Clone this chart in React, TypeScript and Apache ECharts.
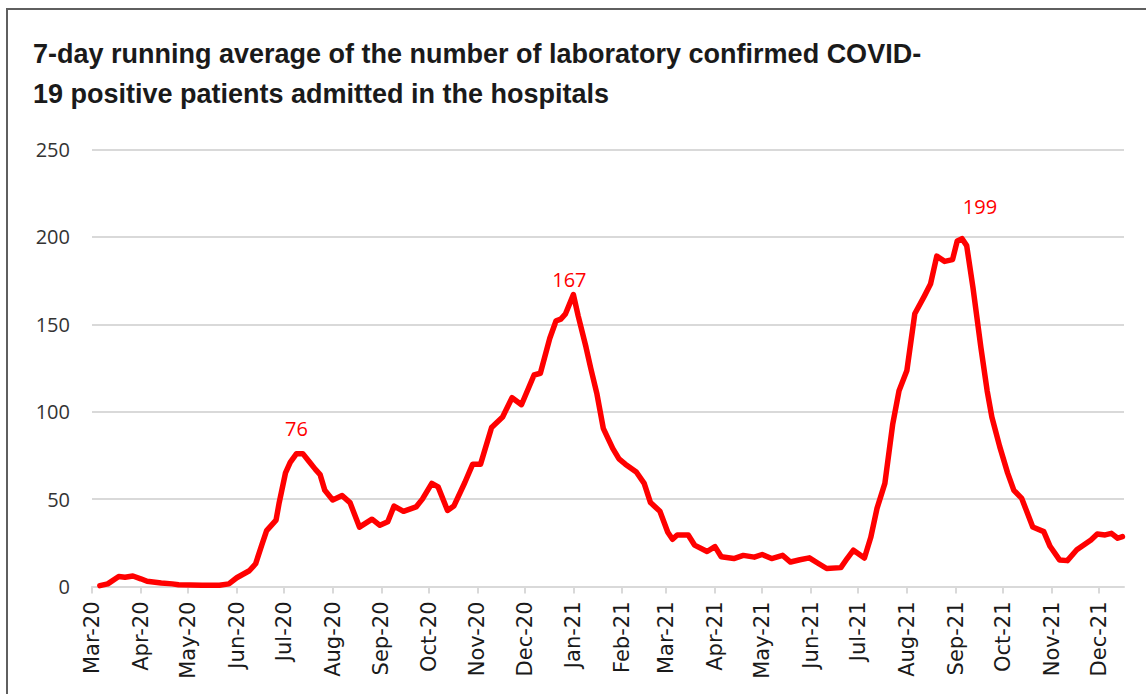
import React, { useEffect, useRef } from "react";
import * as echarts from "echarts";

const titleLines = [
  "7-day running average of the number of laboratory confirmed COVID-",
  "19 positive patients admitted in the hospitals",
];

const axisStart = "2020-03-01";
const axisEnd = "2021-12-17";

const yTicks = [0, 50, 100, 150, 200, 250];

const sampleDates = [
  "2020-03-06", "2020-03-11", "2020-03-18", "2020-03-22", "2020-03-27", "2020-04-01",
  "2020-04-05", "2020-04-14", "2020-04-21", "2020-04-25", "2020-05-10", "2020-05-21",
  "2020-05-27", "2020-06-01", "2020-06-09", "2020-06-13", "2020-06-17", "2020-06-20",
  "2020-06-26", "2020-06-28", "2020-07-02", "2020-07-05", "2020-07-09", "2020-07-13",
  "2020-07-17", "2020-07-21", "2020-07-24", "2020-07-27", "2020-08-01", "2020-08-07",
  "2020-08-12", "2020-08-18", "2020-08-26", "2020-08-31", "2020-09-05", "2020-09-09",
  "2020-09-15", "2020-09-23", "2020-09-27", "2020-10-03", "2020-10-07", "2020-10-13",
  "2020-10-17", "2020-10-24", "2020-10-29", "2020-11-03", "2020-11-10", "2020-11-17",
  "2020-11-23", "2020-11-29", "2020-12-07", "2020-12-11", "2020-12-17", "2020-12-21",
  "2020-12-24", "2020-12-27", "2021-01-01", "2021-01-04", "2021-01-09", "2021-01-12",
  "2021-01-16", "2021-01-20", "2021-01-26", "2021-01-30", "2021-02-03", "2021-02-10",
  "2021-02-15", "2021-02-19", "2021-02-25", "2021-03-02", "2021-03-05", "2021-03-08",
  "2021-03-15", "2021-03-19", "2021-03-27", "2021-04-01", "2021-04-05", "2021-04-13",
  "2021-04-19", "2021-04-26", "2021-05-01", "2021-05-07", "2021-05-14", "2021-05-19",
  "2021-05-25", "2021-05-31", "2021-06-06", "2021-06-11", "2021-06-20", "2021-06-24",
  "2021-06-28", "2021-07-05", "2021-07-09", "2021-07-13", "2021-07-18", "2021-07-23",
  "2021-07-27", "2021-08-01", "2021-08-06", "2021-08-12", "2021-08-16", "2021-08-20",
  "2021-08-25", "2021-08-30", "2021-09-02", "2021-09-05", "2021-09-08", "2021-09-12",
  "2021-09-17", "2021-09-21", "2021-09-24", "2021-09-29", "2021-10-04", "2021-10-08",
  "2021-10-13", "2021-10-20", "2021-10-27", "2021-10-31", "2021-11-06", "2021-11-11",
  "2021-11-17", "2021-11-26", "2021-11-30", "2021-12-05", "2021-12-09", "2021-12-13",
  "2021-12-16",
];

const admissions = [
  0.5, 1.5, 5.7, 5.3, 6, 4.4,
  3, 2, 1.5, 1, 0.7, 0.7,
  1.5, 5, 9, 13, 24, 32,
  38, 48, 65, 71, 76, 76,
  71.5, 67, 64, 55, 49.5, 52,
  48, 34, 38.5, 35, 37, 46,
  43, 45.5, 50, 59, 57, 43.5,
  46, 59.5, 70, 70, 91, 97,
  108, 104, 121, 122, 142, 152,
  153, 156, 167, 155, 137, 125,
  110, 90.5, 79, 73, 70, 65.5,
  59, 48, 43, 31, 27, 29.5,
  29.5, 23.7, 20, 22.8, 17, 16,
  17.8, 16.8, 18.3, 16, 17.8, 14,
  15.3, 16.4, 13, 10.3, 10.8, 16,
  20.8, 16.3, 28, 44.7, 59, 93,
  112, 123.6, 156, 166, 173, 189,
  186, 187, 197.7, 199, 195, 171,
  137, 112, 97, 80, 65, 55,
  50.4, 34, 31.4, 23, 15.2, 14.8,
  21, 26.6, 30, 29.5, 30.4, 27.6,
  28.5,
];

// peak labels: date of labelled point and the text's offset from it
const peakDates = ["2020-07-09", "2021-01-01", "2021-09-05"];
const peakOffsets = [[0, -11], [-4, -1], [18, -18]];

const monthNames = ["Jan", "Feb", "Mar", "Apr", "May", "Jun", "Jul", "Aug", "Sep", "Oct", "Nov", "Dec"];

function buildDays(start: string, end: string): string[] {
  const out: string[] = [];
  const d = new Date(start + "T00:00:00Z");
  const e = new Date(end + "T00:00:00Z");
  while (d.getTime() <= e.getTime()) {
    out.push(d.toISOString().slice(0, 10));
    d.setUTCDate(d.getUTCDate() + 1);
  }
  return out;
}

function monthLabel(iso: string): string {
  const y = iso.slice(2, 4);
  const m = parseInt(iso.slice(5, 7), 10);
  return monthNames[m - 1] + "-" + y;
}

const isMonthStart = (_i: number, v: string) => typeof v === "string" && v.slice(8, 10) === "01";

export default function App() {
  const ref = useRef<HTMLDivElement>(null);
  useEffect(() => {
    if (!ref.current) return;
    const chart = echarts.init(ref.current, null, { renderer: "svg" });
    const days = buildDays(axisStart, axisEnd);
    const seriesData = sampleDates.map((d, i) => [d, admissions[i]]);
    const peakMarks = peakDates.map((d, k) => {
      const v = admissions[sampleDates.indexOf(d)];
      return {
        coord: [d, v],
        value: Math.round(v),
        label: { offset: peakOffsets[k] },
      };
    });
    chart.setOption({
      animation: false,
      backgroundColor: "#ffffff",
      graphic: [
        {
          type: "rect",
          shape: { x: 7, y: 9, width: 1300, height: 900 },
          style: { fill: "none", stroke: "#5f5f5f", lineWidth: 2 },
          silent: true,
        },
        {
          type: "text",
          left: 33,
          top: 40,
          style: {
            text: titleLines[0],
            font: "bold 27px 'Liberation Sans'",
            fill: "#1a1a1a",
          },
        },
        {
          type: "text",
          left: 33,
          top: 80,
          style: {
            text: titleLines[1],
            font: "bold 27px 'Liberation Sans'",
            fill: "#1a1a1a",
          },
        },
      ],
      grid: { left: 92, right: 22, top: 149.5, bottom: 107.5, containLabel: false },
      xAxis: {
        type: "category",
        data: days,
        boundaryGap: false,
        axisLine: { lineStyle: { color: "#d9d9d9", width: 2 } },
        axisTick: {
          show: true,
          interval: isMonthStart,
          length: 7,
          lineStyle: { color: "#d9d9d9", width: 2 },
        },
        axisLabel: {
          interval: isMonthStart,
          rotate: 90,
          margin: 15,
          formatter: (v: string) => monthLabel(v),
          color: "#1a1a1a",
          fontSize: 21,
          fontFamily: "DejaVu Sans",
        },
        splitLine: { show: false },
      },
      yAxis: {
        type: "value",
        min: yTicks[0],
        max: yTicks[yTicks.length - 1],
        interval: 50,
        axisLine: { show: false },
        axisTick: { show: false },
        axisLabel: {
          color: "#333333",
          fontSize: 20,
          fontFamily: "Open Sans",
          margin: 22,
        },
        splitLine: { lineStyle: { color: "#d9d9d9", width: 2 } },
      },
      series: [
        {
          type: "line",
          data: seriesData,
          showSymbol: false,
          symbol: "none",
          lineStyle: { color: "#ff0000", width: 5.5, join: "round", cap: "round" },
          itemStyle: { color: "#ff0000" },
          markPoint: {
            symbol: "circle",
            symbolSize: 1,
            silent: true,
            itemStyle: { color: "rgba(0,0,0,0)" },
            label: {
              show: true,
              position: "top",
              distance: 4,
              color: "#ff0000",
              fontSize: 20,
              fontFamily: "Open Sans",
              formatter: (p: any) => String(p.value),
            },
            data: peakMarks,
          },
        },
      ],
    });
    return () => chart.dispose();
  }, []);
  return (
    <div
      ref={ref}
      style={{ position: "absolute", left: 0, top: 0, width: 1146, height: 694 }}
    />
  );
}
